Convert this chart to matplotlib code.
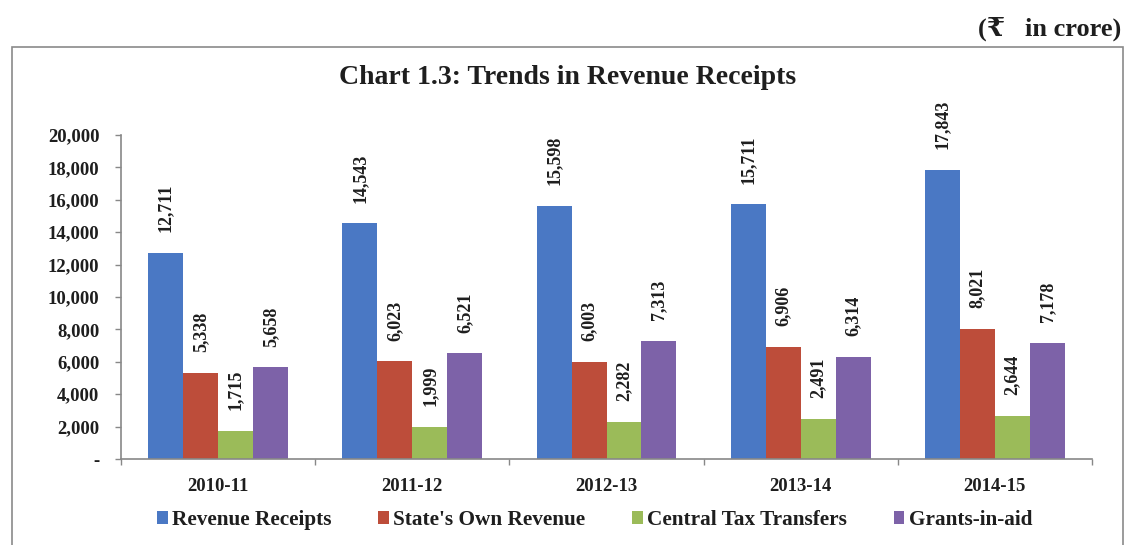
import matplotlib
matplotlib.use("Agg")
import matplotlib.pyplot as plt
import numpy as np
from matplotlib.patches import Rectangle

years = ["2010-11", "2011-12", "2012-13", "2013-14", "2014-15"]
revenue_receipts = [12711, 14543, 15598, 15711, 17843]
states_own_revenue = [5338, 6023, 6003, 6906, 8021]
central_tax_transfers = [1715, 1999, 2282, 2491, 2644]
grants_in_aid = [5658, 6521, 7313, 6314, 7178]
series_names = ["Revenue Receipts", "State's Own Revenue",
                "Central Tax Transfers", "Grants-in-aid"]
y_ticks = [0, 2000, 4000, 6000, 8000, 10000, 12000, 14000, 16000, 18000, 20000]

colors = ["#4a78c4", "#bd4d3a", "#9bbb59", "#7d62a8"]
text_color = "#1e1e1e"

plt.rcParams["font.family"] = ["Liberation Serif", "DejaVu Serif", "DejaVu Sans"]
plt.rcParams["font.weight"] = "bold"

fig = plt.figure(figsize=(11.35, 5.45), dpi=100)
fig.patch.set_facecolor("white")

# outer chart frame (runs off the bottom of the page)
fig.patches.append(Rectangle((12 / 1135, -0.05), (1123 - 12) / 1135, 1.05 - 47 / 545,
                             transform=fig.transFigure, fill=False,
                             edgecolor="#8a8a8a", linewidth=1.2))

ax = fig.add_axes([121 / 1135, 1 - 459 / 545, (1092 - 121) / 1135, (459 - 135) / 545])

x = np.arange(len(years))
width = 0.18
all_series = [revenue_receipts, states_own_revenue, central_tax_transfers, grants_in_aid]
for i, (vals, name, c) in enumerate(zip(all_series, series_names, colors)):
    pos = x + (i - 1.5) * width
    ax.bar(pos, vals, width=width, color=c, label=name, linewidth=0)
    for px, v in zip(pos, vals):
        ax.annotate(f"{v:,}", (px, v), xytext=(0, 15), textcoords="offset points",
                    rotation=90, ha="center", va="bottom", fontsize=13,
                    fontweight="bold", color=text_color)

ax.set_xlim(-0.5, len(years) - 0.5)
ax.set_ylim(0, 20000)
ax.set_yticks(y_ticks)
ax.set_yticklabels(["-" if t == 0 else f"{t:,}" for t in y_ticks])
ax.set_xticks(x)
ax.set_xticklabels(years)
ax.set_xticks(np.arange(-0.5, len(years)), minor=True)
ax.tick_params(axis="x", which="major", length=0, pad=14, labelsize=13.5,
               labelcolor=text_color)
ax.tick_params(axis="x", which="minor", length=4, width=1, color="#888888",
               direction="out")
ax.tick_params(axis="y", length=4, width=1, color="#888888", pad=11.5,
               labelsize=13.5, labelcolor=text_color)

for s in ["top", "right"]:
    ax.spines[s].set_visible(False)
for s in ["left", "bottom"]:
    ax.spines[s].set_color("#888888")
    ax.spines[s].set_linewidth(1.2)

fig.text(0.5, 1 - 78 / 545, "Chart 1.3: Trends in Revenue Receipts", ha="center",
         va="center", fontsize=20, fontweight="bold", color=text_color)
fig.text(1121 / 1135, 1 - 29 / 545, "(₹   in crore)", ha="right", va="center",
         fontsize=19, fontweight="bold", color=text_color)

leg = fig.legend(loc="center", bbox_to_anchor=(0.524, 1 - 520 / 545), ncol=4,
                 frameon=False, fontsize=15.3, handlelength=0.5, handleheight=0.5,
                 handletextpad=0.2, columnspacing=2.2)
for t in leg.get_texts():
    t.set_color(text_color)

fig.savefig("out.png", dpi=100, facecolor="white")
